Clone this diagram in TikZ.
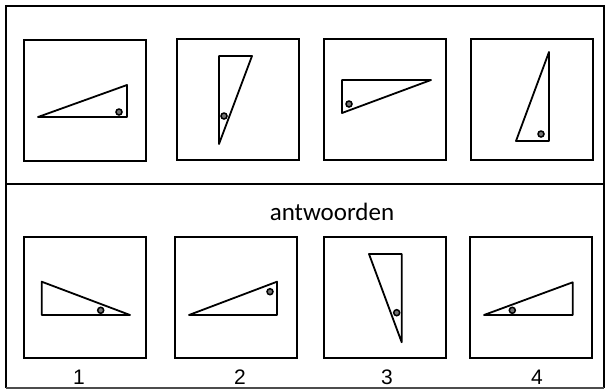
\documentclass[tikz,border=0pt]{standalone}
\usepackage{fontspec}
\newfontfamily\calfont{Carlito}
\newfontfamily\arifont{Liberation Sans}
\begin{document}
\begin{tikzpicture}[x=1pt,y=-1pt,
  frame/.style={line width=2pt},
  boxsq/.style={draw,line width=1.8pt,minimum width=122pt,minimum height=121pt,inner sep=0pt,anchor=north west},
  tri/.style={line width=1.8pt,line join=round},
  ringmark/.style={draw,line width=1.5pt,fill=black!55,circle,minimum size=6pt,inner sep=0pt},
  numlabel/.style={font=\arifont\fontsize{21}{24}\selectfont,anchor=base,inner sep=0pt}]
\useasboundingbox (0,0) rectangle (605,389);
% outer frame
\draw[frame] (6,388) -- (6,5.5) -- (604,5.5) -- (604,388);
\draw[line width=1.2pt,black!70] (6,388) -- (604,388);
\draw[frame] (6,184) -- (604,184);
% top row boxes
\node[boxsq] (t1) at (23,39) {};
\node[boxsq] (t2) at (176,38) {};
\node[boxsq] (t3) at (323,38) {};
\node[boxsq] (t4) at (470,38) {};
% top triangles
\draw[tri] (38,117) -- (127,85) -- (127,117) -- cycle;
\node[ringmark] (m1) at (119,112) {};
\draw[tri] (219,56) -- (252,56) -- (219,144) -- cycle;
\node[ringmark] (m2) at (224,116) {};
\draw[tri] (342,80) -- (431,80) -- (342,113) -- cycle;
\node[ringmark] (m3) at (349,104) {};
\draw[tri] (549,52) -- (549,141) -- (516,141) -- cycle;
\node[ringmark] (m4) at (541,134) {};
% answers
\node[font=\calfont\fontsize{25}{28}\selectfont,anchor=base,inner sep=0pt] (ans) at (332,220) {antwoorden};
\node[boxsq] (b1) at (23,236) {};
\node[boxsq] (b2) at (174,236) {};
\node[boxsq] (b3) at (323,236) {};
\node[boxsq] (b4) at (469,236) {};
\draw[tri] (41.7,281.7) -- (41.7,315) -- (130,315) -- cycle;
\node[ringmark] (n1) at (100.7,310.3) {};
\draw[tri] (189,315) -- (277,281.7) -- (277,315) -- cycle;
\node[ringmark] (n2) at (270,291.7) {};
\draw[tri] (369,254) -- (401.7,254) -- (401.7,342.3) -- cycle;
\node[ringmark] (n3) at (396.7,312.7) {};
\draw[tri] (484,315) -- (572.7,282.3) -- (572.7,315) -- cycle;
\node[ringmark] (n4) at (512.3,310.3) {};
% numbers
\node[numlabel] (l1) at (79,384) {1};
\node[numlabel] (l2) at (240,384) {2};
\node[numlabel] (l3) at (387,384) {3};
\node[numlabel] (l4) at (537,384) {4};
\end{tikzpicture}
\end{document}
